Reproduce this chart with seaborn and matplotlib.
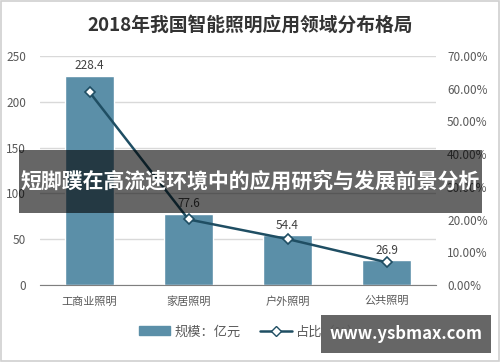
import matplotlib
matplotlib.use("Agg")
import matplotlib.pyplot as plt
import seaborn as sns
import numpy as np
import pandas as pd
from matplotlib.patches import Rectangle
from matplotlib.lines import Line2D

sns.set_style("white")
plt.rcParams["font.family"] = ["Noto Sans CJK SC", "DejaVu Sans"]

categories = ["工商业照明", "家居照明", "户外照明", "公共照明"]
scale_values = [228.4, 77.6, 54.4, 26.9]      # 规模：亿元
share_values = [58.97, 20.04, 14.05, 6.95]    # 占比（%）
left_ticks = [0, 50, 100, 150, 200, 250]
right_ticks = [0, 10, 20, 30, 40, 50, 60, 70]

bar_color = "#5b8fa8"
line_color = "#1f4e63"
text_color = "#595959"

df = pd.DataFrame({"cat": categories, "scale": scale_values, "share": share_values})

fig = plt.figure(figsize=(5, 3.62), dpi=100)
ax = fig.add_axes([0.08, 0.2127, 0.792, 0.6326])

sns.barplot(data=df, x="cat", y="scale", color=bar_color, width=0.5,
            saturation=1, ax=ax, zorder=2)
ax.set_ylim(0, 250)
ax.set_yticks(left_ticks)
ax.set_xlabel("")
ax.set_ylabel("")
ax.yaxis.grid(True, color="#d9d9d9", linewidth=1)
ax.set_axisbelow(True)
for s in ["top", "right", "left"]:
    ax.spines[s].set_visible(False)
ax.spines["bottom"].set_color("#7f7f7f")
ax.tick_params(axis="y", length=0, labelsize=8.5, labelcolor=text_color, pad=10)
ax.tick_params(axis="x", length=0, labelsize=8, labelcolor=text_color, pad=8)

for i, v in enumerate(scale_values):
    ax.text(i, v + 4, f"{v}", ha="center", va="bottom", fontsize=8.5, color="#404040")

ax2 = ax.twinx()
sns.pointplot(data=df, x="cat", y="share", color=line_color, markers="D",
              ax=ax2, markersize=5.5, markerfacecolor="white",
              markeredgecolor=line_color, markeredgewidth=1.2, linewidth=1.8)
ax2.set_ylim(0, 70)
ax2.set_yticks(right_ticks)
ax2.set_yticklabels([f"{t:.2f}%" for t in right_ticks])
ax2.set_ylabel("")
ax2.set_xlabel("")
for s in ["top", "right", "left", "bottom"]:
    ax2.spines[s].set_visible(False)
ax2.tick_params(axis="y", length=0, labelsize=8.5, labelcolor=text_color, pad=8)
ax.set_xlim(-0.5, 3.5)

fig.text(0.5, 0.93, "2018年我国智能照明应用领域分布格局", ha="center", va="center",
         fontsize=13.5, fontweight="bold", color="#333333")

handles = [Rectangle((0, 0), 1, 1, color=bar_color),
           Line2D([0], [0], color=line_color, linewidth=1.8, marker="D",
                  markersize=5, markerfacecolor="white", markeredgecolor=line_color)]
fig.legend(handles, ["规模：亿元", "占比（%）"], loc="center", bbox_to_anchor=(0.5, 0.083),
           ncol=2, frameon=False, fontsize=9.5, labelcolor=text_color,
           handlelength=2.4, handletextpad=0.3, columnspacing=1.5)

# outer frame
fig.add_artist(Rectangle((0.002, 0.003), 0.996, 0.994, transform=fig.transFigure,
                         fill=False, edgecolor="#d0d0d0", linewidth=1.2))

# overlay banner
fig.add_artist(Rectangle((0.038, 0.412), 0.926, 0.174, transform=fig.transFigure,
                         facecolor="black", alpha=0.6, edgecolor="none", zorder=5))
fig.text(0.5, 0.499, "短脚蹼在高流速环境中的应用研究与发展前景分析", ha="center", va="center",
         fontsize=15, fontweight="bold", color="white", zorder=6)

# watermark
fig.add_artist(Rectangle((0.642, 0.025), 0.34, 0.105, transform=fig.transFigure,
                         facecolor="black", alpha=0.6, edgecolor="none", zorder=5))
fig.text(0.812, 0.077, "www.ysbmax.com", ha="center", va="center",
         fontsize=12, fontweight="bold", color="white", zorder=6)

fig.savefig("out.png", dpi=100)
